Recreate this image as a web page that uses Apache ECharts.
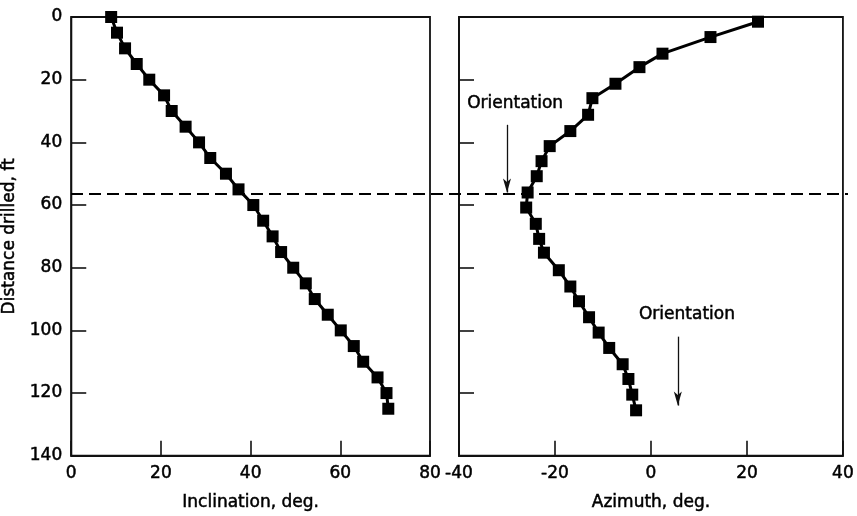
<!DOCTYPE html>
<html>
<head>
<meta charset="utf-8">
<script src="https://cdn.jsdelivr.net/npm/echarts@6/dist/echarts.min.js"></script>
<style>html,body{margin:0;padding:0;background:#fff;}#c{width:857px;height:516px;}</style>
</head>
<body>
<div id="c"></div>
<script>
// Left panel: inclination vs distance drilled
const depthIncl = [0,5,10,15,20,25,30,35,40,45,50,55,60,65,70,75,80,85,90,95,100,105,110,115,120,125];
const inclination = [8.9,10.2,12.0,14.6,17.4,20.7,22.4,25.5,28.5,31.0,34.5,37.3,40.6,42.8,44.9,46.8,49.5,52.3,54.3,57.2,60.1,63.0,65.1,68.3,70.3,70.7];
// Right panel: azimuth vs distance drilled
const depthAzim = [1.5,6.4,11.7,16,21.3,25.9,31.2,36.4,41.2,46,50.8,56,60.8,66,70.8,75.2,80.8,86,90.7,95.8,100.7,105.6,110.8,115.5,120.5,125.5];
const azimuth = [22.3,12.4,2.4,-2.4,-7.4,-12.2,-13.1,-16.8,-21.1,-22.8,-23.8,-25.7,-26.0,-24.0,-23.3,-22.3,-19.2,-16.8,-15.0,-12.9,-10.9,-8.7,-5.9,-4.7,-3.9,-3.1];
// Orientation depth (dashed line across both panels) and annotation arrows
const orientationDepth = 56;
const orientArrows = [
  {az: -30, from: 34.4, to: 56, label: 'Orientation', labelAz: -28.3, labelDepth: 27.5},
  {az: 5.6, from: 102, to: 124, label: 'Orientation', labelAz: 7.5, labelDepth: 95.1}
];
const yTicks = {min: 0, max: 140, interval: 20};
const xInclTicks = {min: 0, max: 80, interval: 20};
const xAzimTicks = {min: -40, max: 40, interval: 20};

const FONT = 'DejaVu Sans';
const TXT = '#000';
const TXT_STYLE = {fontFamily: FONT, fontSize: 17, color: TXT, textBorderColor: '#000', textBorderWidth: 0.5};
const chart = echarts.init(document.getElementById('c'), null, {renderer: 'canvas'});

function xAxisCfg(idx, t, name) {
  return {
    type: 'value', gridIndex: idx, min: t.min, max: t.max, interval: t.interval,
    position: 'bottom',
    name: name, nameLocation: 'middle', nameGap: 38,
    nameTextStyle: Object.assign({}, TXT_STYLE),
    axisLine: {show: true, onZero: false, lineStyle: {color: '#111', width: 1.8}},
    axisTick: {show: true, inside: true, length: 15, lineStyle: {color: '#111', width: 1.6}},
    axisLabel: Object.assign({margin: 9}, TXT_STYLE),
    splitLine: {show: false}
  };
}
function yAxisCfg(idx, showLabel, name) {
  return {
    type: 'value', gridIndex: idx, inverse: true, position: 'left',
    min: yTicks.min, max: yTicks.max, interval: yTicks.interval,
    name: name, nameLocation: 'middle', nameGap: 53,
    nameTextStyle: Object.assign({}, TXT_STYLE),
    axisLine: {show: true, onZero: false, lineStyle: {color: '#111', width: 1.8}},
    axisTick: {show: true, inside: true, length: 15, lineStyle: {color: '#111', width: 1.6}},
    axisLabel: Object.assign({show: showLabel, margin: 9}, TXT_STYLE),
    splitLine: {show: false}
  };
}

const option = {
  backgroundColor: '#fff',
  animation: false,
  grid: [
    {left: 71, right: 427, top: 17, bottom: 56, show: true, borderColor: '#111', borderWidth: 1.8},
    {left: 459, right: 9, top: 17, bottom: 56, show: true, borderColor: '#111', borderWidth: 1.8},
    // overlay spanning both panels, used only for the dashed orientation line
    {left: 71, right: 9, top: 17, bottom: 56, show: false}
  ],
  xAxis: [
    xAxisCfg(0, xInclTicks, 'Inclination, deg.'),
    xAxisCfg(1, xAzimTicks, 'Azimuth, deg.'),
    {type: 'value', gridIndex: 2, min: 0, max: 1, show: false}
  ],
  yAxis: [
    yAxisCfg(0, true, 'Distance drilled, ft'),
    yAxisCfg(1, false, ''),
    {type: 'value', gridIndex: 2, inverse: true, min: yTicks.min, max: yTicks.max, show: false}
  ],
  series: [
    {
      type: 'line', xAxisIndex: 0, yAxisIndex: 0,
      data: inclination.map((v, i) => [v, depthIncl[i]]),
      symbol: 'rect', symbolSize: 12,
      itemStyle: {color: '#000'},
      lineStyle: {color: '#000', width: 3},
      clip: false
    },
    {
      type: 'line', xAxisIndex: 1, yAxisIndex: 1,
      data: azimuth.map((v, i) => [v, depthAzim[i]]),
      symbol: 'rect', symbolSize: 12,
      itemStyle: {color: '#000'},
      lineStyle: {color: '#000', width: 3},
      clip: false
    },
    {
      type: 'line', xAxisIndex: 2, yAxisIndex: 2, data: [],
      markLine: {
        silent: true, symbol: ['none', 'none'], label: {show: false},
        lineStyle: {color: '#000', width: 1.8, type: [12, 6]},
        data: [[{coord: [0, orientationDepth]}, {coord: [1, orientationDepth]}]]
      }
    },
    {
      type: 'line', xAxisIndex: 1, yAxisIndex: 1, data: [],
      markLine: {
        silent: true, symbol: ['none', 'arrow'], symbolSize: [6, 14],
        label: {show: false},
        lineStyle: {color: '#111', width: 1.3, type: 'solid'},
        data: orientArrows.map(a => [{coord: [a.az, a.from]}, {coord: [a.az, a.to]}])
      },
      markPoint: {
        silent: true, symbol: 'circle', symbolSize: 0,
        label: Object.assign({show: true, position: 'inside', formatter: p => p.name}, TXT_STYLE),
        data: orientArrows.map(a => ({name: a.label, coord: [a.labelAz, a.labelDepth]}))
      }
    }
  ]
};
chart.setOption(option);
</script>
</body>
</html>
